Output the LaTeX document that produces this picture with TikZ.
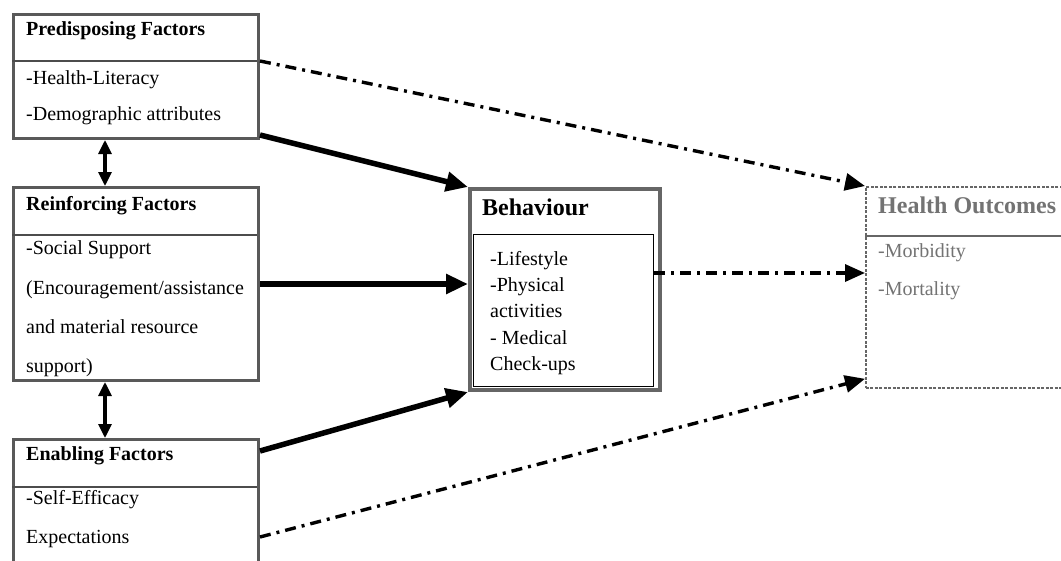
\documentclass[tikz,border=0pt]{standalone}
\usepackage{fontspec}
\setmainfont{Liberation Serif}
\usetikzlibrary{arrows.meta, positioning, calc}

\begin{document}
\begin{tikzpicture}[x=1pt, y=-1pt,
    box/.style={rectangle, draw=black!65, line width=3pt, anchor=north west, inner sep=0pt},
    txt/.style={anchor=base west, inner sep=0pt, font=\fontsize{20}{24}\selectfont},
    ttl/.style={anchor=base west, inner sep=0pt, font=\fontsize{20}{24}\selectfont\bfseries},
    big/.style={anchor=base west, inner sep=0pt, font=\fontsize{24}{28}\selectfont\bfseries},
    main/.style={-{Triangle[length=22pt, width=19pt]}, line width=5.5pt},
    indirect/.style={-{Triangle[length=20pt, width=17pt]}, line width=3.4pt, dash pattern=on 11pt off 6pt on 3pt off 6pt},
    link/.style={{Triangle[length=14pt, width=13pt]}-{Triangle[length=14pt, width=13pt]}, line width=3.2pt}]

    \useasboundingbox[fill=white] (0,0) rectangle (1061,560);

    % factor boxes
    \node[box, minimum width=245pt, minimum height=124pt] (pre) at (12,13) {};
    \draw[black!70, line width=1.8pt] (12,61) -- (257,61);
    \node[ttl] (pretitle) at (26,35) {Predisposing Factors};
    \node[txt] (pre1) at (26,84) {-Health-Literacy};
    \node[txt] (pre2) at (26,120) {-Demographic attributes};

    \node[box, minimum width=245pt, minimum height=193pt] (rein) at (12,186) {};
    \draw[black!70, line width=1.8pt] (12,235) -- (257,235);
    \node[ttl] (reintitle) at (26,210) {Reinforcing Factors};
    \node[txt] (rein1) at (26,254) {-Social Support};
    \node[txt] (rein2) at (26,294) {(Encouragement/assistance};
    \node[txt] (rein3) at (26,333) {and material resource};
    \node[txt] (rein4) at (26,372) {support)};

    \node[box, minimum width=245pt, minimum height=127pt] (enab) at (12,438) {};
    \draw[black!70, line width=1.8pt] (12,487) -- (257,487);
    \node[ttl] (enabtitle) at (26,460) {Enabling Factors};
    \node[txt] (enab1) at (26,504) {-Self-Efficacy};
    \node[txt] (enab2) at (26,543) {Expectations};

    % behaviour
    \node[box, draw=black!60, line width=4pt, minimum width=190pt, minimum height=201pt] (beh) at (468,187) {};
    \node[box, draw=black, line width=1.2pt, minimum width=180pt, minimum height=152pt] (behin) at (473,234) {};
    \node[big] (behtitle) at (482,215) {Behaviour};
    \node[txt] (beh1) at (490,265) {-Lifestyle};
    \node[txt] (beh2) at (490,291) {-Physical};
    \node[txt] (beh3) at (490,317) {activities};
    \node[txt] (beh4) at (490,344) {- Medical};
    \node[txt] (beh5) at (490,370) {Check-ups};

    % outcomes
    \node[box, draw=black!60, line width=1.8pt, dash pattern=on 3pt off 1.5pt, minimum width=205pt, minimum height=201pt] (out) at (865,186) {};
    \draw[black!60, line width=1.8pt] (865,236) -- (1070,236);
    \node[big, black!55] (outtitle) at (878,213) {Health Outcomes};
    \node[txt, black!55] (out1) at (878,257) {-Morbidity};
    \node[txt, black!55] (out2) at (878,295) {-Mortality};

    % links
    \draw[link] (pre.south -| 105,0) -- (rein.north -| 105,0);
    \draw[link] (rein.south -| 105,0) -- (enab.north -| 105,0);

    \draw[main] ($(pre.south east)+(0,-5)$) -- (beh.north west);
    \draw[main] (rein.east) -- (rein.east -| beh.west);
    \draw[main] ($(enab.north east)+(0,13)$) -- (beh.south west);

    \draw[indirect] ($(pre.north east)+(0,48)$) -- (out.north west);
    \draw[indirect] ($(behin.north east)+(0,39)$) -- ($(out.north west)+(0,87)$);
    \draw[indirect] ($(enab.north east)+(0,99)$) -- ($(out.south west)+(0,-10)$);
\end{tikzpicture}
\end{document}
